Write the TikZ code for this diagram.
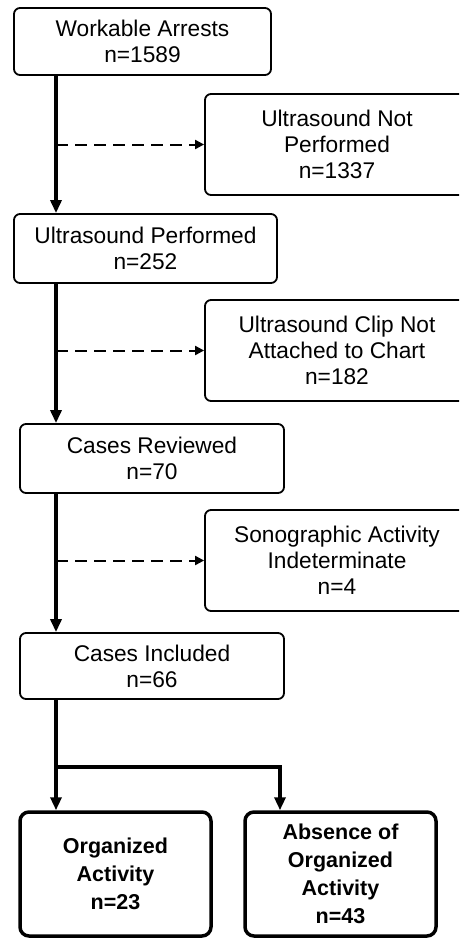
\documentclass[tikz,border=0pt]{standalone}
\usepackage{fontspec}
\setmainfont{Liberation Sans}
\usetikzlibrary{arrows.meta}

\begin{document}
\begin{tikzpicture}[x=1pt, y=-1pt,
  box/.style={draw, line width=1.8pt, rounded corners=6pt, align=center, inner sep=0pt,
    minimum width=264pt, font=\fontsize{22.7}{26}\selectfont},
  result/.style={box, line width=3.5pt, rounded corners=9pt, minimum width=191pt,
    minimum height=124pt, font=\fontsize{21.5}{28}\selectfont\bfseries},
  flow/.style={line width=3.8pt, -{Triangle[length=13pt,width=11pt]}},
  skip/.style={line width=2pt, dash pattern=on 12pt off 7pt, -{Triangle[length=9pt,width=9pt]}}]

  \useasboundingbox (0,0) rectangle (459,938);
  \clip (0,0) rectangle (459,938);

  % Main column
  \node[box, minimum width=257pt, minimum height=67pt] (arrests) at (142.5,41.5) {Workable Arrests\\n=1589};
  \node[box, minimum width=263pt, minimum height=69pt] (performed) at (145.5,248.5) {Ultrasound Performed\\n=252};
  \node[box, minimum height=69pt] (reviewed) at (152,458.5) {Cases Reviewed\\n=70};
  \node[box, minimum height=66pt] (included) at (152,666) {Cases Included\\n=66};

  % Excluded
  \node[box, minimum height=101pt] (notperf) at (337,144.5) {Ultrasound Not\\Performed\\n=1337};
  \node[box, minimum height=101pt] (noclip) at (337,350.5) {Ultrasound Clip Not\\Attached to Chart\\n=182};
  \node[box, minimum height=101pt] (indet) at (337,560.5) {Sonographic Activity\\Indeterminate\\n=4};

  % Outcomes
  \node[result] (organized) at (115.5,874) {Organized\\Activity\\n=23};
  \node[result] (absent) at (340.5,874) {Absence of\\Organized\\Activity\\n=43};

  \coordinate (trunk) at (56,0);
  \coordinate (fork) at (280,767);

  % Arrows
  \draw[flow] (trunk |- arrests.south) -- (trunk |- performed.north);
  \draw[flow] (trunk |- performed.south) -- (trunk |- reviewed.north);
  \draw[flow] (trunk |- reviewed.south) -- (trunk |- included.north);
  \draw[flow] (trunk |- included.south) -- (trunk |- organized.north);
  \draw[flow] (trunk |- fork) -| (fork |- absent.north);

  \draw[skip] (trunk |- notperf.west) -- (notperf.west);
  \draw[skip] (trunk |- noclip.west) -- (noclip.west);
  \draw[skip] (trunk |- indet.west) -- (indet.west);
\end{tikzpicture}
\end{document}
